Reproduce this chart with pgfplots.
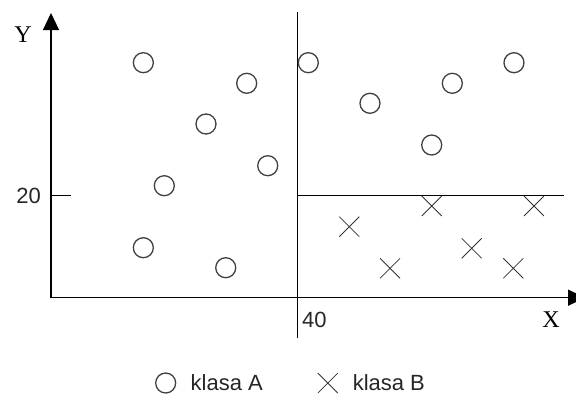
\documentclass[border=0pt]{standalone}
\usepackage{pgfplots}
\pgfplotsset{compat=1.18}
\usetikzlibrary{arrows.meta}
\usepackage{fontspec}
\setmainfont{Liberation Sans}
\newfontfamily\serifX{Liberation Serif}
\begin{document}
\begin{tikzpicture}
\useasboundingbox (0,0) rectangle (576pt,394pt);
\begin{axis}[
  at={(51pt,96.3pt)}, anchor=origin,
  x=6.1675pt, y=5.1pt,
  xmin=0, xmax=86.6, ymin=0, ymax=55.82,
  enlargelimits=false,
  clip=false,
  axis lines=left,
  axis line style={line width=1.2pt, black, -{Triangle[length=17pt,width=16pt]}},
  xtick={40}, ytick={20}, xticklabels={40}, yticklabels={20},
  /pgf/number format/assume math mode=true,
  tick align=inside, major tick length=20pt,
  ytick style={line width=1pt, black},
  xtick style={draw=none},
  tick label style={font=\fontsize{22}{26}\selectfont, text=black!85, inner sep=0pt},
  yticklabel style={anchor=east, xshift=-10pt},
  xticklabel style={anchor=north west, xshift=4.3pt, yshift=-14.3pt},
  xlabel={X}, ylabel={Y},
  xlabel style={at={(rel axis cs:0.9361,-0.0783)}, anchor=center, font=\serifX\fontsize{24}{28}\selectfont},
  ylabel style={at={(rel axis cs:-0.0524,0.9228)}, anchor=center, rotate=-90, font=\serifX\fontsize{24}{28}\selectfont},
  legend style={draw=none, fill=none, inner sep=0pt, at={(axis cs:16.94,-16.73)}, anchor=west,
    font=\fontsize{22}{26}\selectfont, text=black!85,
    /tikz/every odd column/.append style={column sep=13pt},
    /tikz/every even column/.append style={column sep=53pt}},
  legend columns=2,
]
\addplot[only marks, mark=o, mark size=10pt, mark options={line width=1.3pt, draw=black!75}] coordinates {
 (14.97,46.08) (31.73,42.04) (25.13,34.06) (35.14,25.88) (18.37,21.96)
 (14.97,9.80) (28.33,5.88) (41.72,46.08) (51.72,38.12) (65.07,42.04)
 (61.73,29.94) (75.07,46.08)
};
\addlegendentry{klasa A}
\addplot[only marks, mark=x, mark size=14.1pt, mark options={line width=0.8pt, draw=black!80}] coordinates {
 (48.37,13.92) (61.73,17.98) (54.97,5.76) (68.21,9.69) (74.96,5.76) (78.31,17.98)
};
\addlegendentry{klasa B}
\addplot[line width=1.2pt, black, forget plot] coordinates {(40,-7.9) (40,56.02)};
\addplot[line width=1.2pt, black, forget plot] coordinates {(40,20) (83.18,20)};
\end{axis}
\end{tikzpicture}
\end{document}
